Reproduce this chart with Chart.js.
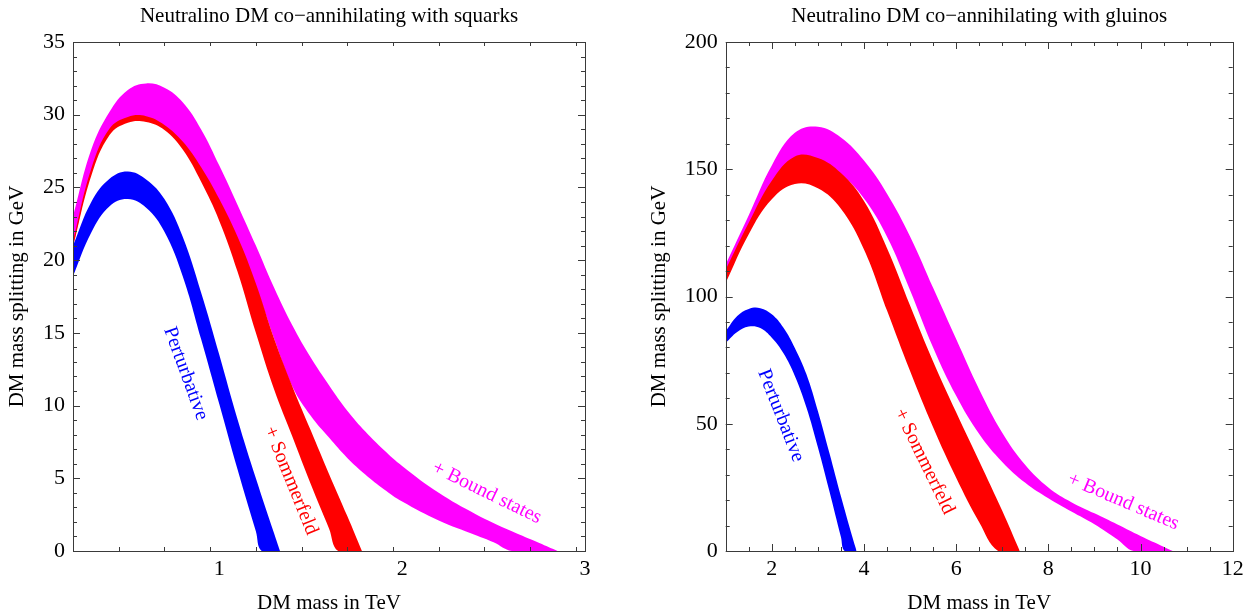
<!DOCTYPE html>
<html><head><meta charset="utf-8">
<script src="https://cdn.jsdelivr.net/npm/chart.js@4/dist/chart.umd.min.js"></script>
<style>
html,body{margin:0;padding:0;background:#fff;}
#wrap{position:relative;width:1256px;height:614px;overflow:hidden;}
.box{position:absolute;top:0;width:628px;height:614px;}
</style></head><body>
<div id="wrap">
<div class="box" style="left:0"><canvas id="c1" width="628" height="614"></canvas></div>
<div class="box" style="left:628px"><canvas id="c2" width="628" height="614"></canvas></div>
</div>
<script>
// ---------- Left panel: squarks (DM mass in TeV vs splitting in GeV) ----------
const sqBlueHiX = [0.2, 0.3, 0.4, 0.5, 0.6, 0.7, 0.8, 0.9, 1.0, 1.1, 1.2, 1.3, 1.332];
const sqBlueHiY = [21.0, 24.0, 25.6, 26.1, 25.55, 24.2, 21.6, 17.8, 13.5, 9.05, 5.0, 1.2, 0];
const sqBlueLoX = [0.2, 0.3, 0.4, 0.5, 0.6, 0.7, 0.8, 0.9, 1.0, 1.1, 1.2, 1.232, 1.332];
const sqBlueLoY = [18.9, 21.9, 23.7, 24.2, 23.6, 21.95, 18.9, 14.6, 10.1, 5.6, 1.35, 0, 0];

const sqRedHiX = [0.2, 0.3, 0.4, 0.5, 0.6, 0.7, 0.8, 0.9, 1.0, 1.1, 1.2, 1.3, 1.4, 1.5, 1.6, 1.7, 1.78];
const sqRedHiY = [21.3, 26.3, 29.05, 29.85, 29.9, 29.3, 28.15, 26.4, 24.2, 21.6, 18.4, 14.6, 11.3, 8.3, 5.3, 2.4, 0];
const sqRedLoX = [0.2, 0.3, 0.4, 0.5, 0.6, 0.7, 0.8, 0.9, 1.0, 1.1, 1.2, 1.3, 1.4, 1.5, 1.6, 1.65, 1.78];
const sqRedLoY = [20.9, 25.8, 28.6, 29.45, 29.5, 28.95, 27.6, 25.4, 22.7, 19.2, 15.0, 11.1, 7.85, 4.6, 1.55, 0, 0];

const sqMagHiX = [0.2, 0.3, 0.4, 0.5, 0.6, 0.7, 0.8, 0.9, 1.0, 1.1, 1.2, 1.3, 1.4, 1.5, 1.6, 1.7, 1.8, 1.9, 2.0, 2.2, 2.4, 2.6, 2.75, 2.85];
const sqMagHiY = [23.0, 27.6, 30.2, 31.7, 32.15, 31.85, 30.85, 29.0, 26.5, 23.8, 21.0, 18.1, 15.5, 13.3, 11.4, 9.65, 8.2, 6.95, 5.85, 4.0, 2.55, 1.35, 0.55, 0];
const sqMagLoX = [0.2, 0.3, 0.4, 0.5, 0.6, 0.7, 0.8, 0.9, 1.0, 1.1, 1.2, 1.3, 1.4, 1.5, 1.6, 1.7, 1.8, 1.9, 2.0, 2.2, 2.4, 2.5, 2.6, 2.85];
const sqMagLoY = [21.0, 26.0, 28.7, 29.6, 29.7, 29.2, 27.9, 26.1, 23.9, 21.3, 18.2, 14.6, 11.3, 9.3, 7.8, 6.4, 5.25, 4.25, 3.4, 2.1, 1.1, 0.6, 0, 0];

const sqXTicks = [1, 2, 3];
const sqYTicks = [0, 5, 10, 15, 20, 25, 30, 35];

// ---------- Right panel: gluinos ----------
const glBlueHiX = [1.0, 1.25, 1.5, 1.75, 2.0, 2.25, 2.5, 2.75, 3.0, 3.25, 3.5, 3.75, 3.84];
const glBlueHiY = [86.3, 92.3, 95.1, 95.4, 93.0, 87.8, 79.8, 69.5, 55.0, 38.5, 21.5, 5.4, 0];
const glBlueLoX = [1.0, 1.25, 1.5, 1.75, 2.0, 2.25, 2.5, 2.75, 3.0, 3.25, 3.5, 3.58, 3.84];
const glBlueLoY = [81.8, 86.1, 88.2, 87.6, 83.8, 77.8, 68.8, 56.5, 40.8, 23.5, 5.5, 0, 0];

const glRedHiX = [1.0, 1.5, 2.0, 2.5, 3.0, 3.5, 4.0, 4.5, 5.0, 5.5, 6.0, 6.5, 7.0, 7.38];
const glRedHiY = [110.6, 129.0, 145.5, 155.0, 154.4, 148.5, 137.5, 119.0, 96.5, 74.5, 54.5, 35.3, 15.8, 0];
const glRedLoX = [1.0, 1.5, 2.0, 2.5, 3.0, 3.5, 4.0, 4.5, 5.0, 5.5, 6.0, 6.5, 6.91, 7.38];
const glRedLoY = [105.4, 124.5, 138.2, 144.2, 142.5, 134.5, 118.5, 94.5, 70.7, 48.6, 28.8, 11.3, 0, 0];

const glMagHiX = [1.0, 1.5, 2.0, 2.5, 3.0, 3.5, 4.0, 4.5, 5.0, 5.5, 6.0, 6.5, 7.0, 7.5, 8.0, 8.5, 9.0, 9.5, 10.0, 10.5, 10.7];
const glMagHiY = [112.6, 131.9, 151.5, 164.3, 166.7, 162.5, 153.4, 140.4, 123.6, 103.4, 83.3, 63.5, 46.5, 33.8, 25.0, 19.2, 14.8, 10.4, 5.9, 1.7, 0];
const glMagLoX = [1.0, 1.5, 2.0, 2.5, 3.0, 3.5, 4.0, 4.5, 5.0, 5.5, 6.0, 6.5, 7.0, 7.5, 8.0, 8.5, 9.0, 9.5, 9.85, 10.7];
const glMagLoY = [110.0, 128.0, 144.5, 153.6, 153.8, 148.0, 138.5, 123.5, 102.5, 80.0, 61.0, 46.0, 35.0, 26.8, 20.7, 15.5, 10.5, 4.5, 0, 0];

const glXTicks = [2, 4, 6, 8, 10, 12];
const glYTicks = [0, 50, 100, 150, 200];

// ---------- helpers ----------
const SERIF = '"Liberation Serif", "DejaVu Serif", "Times New Roman", serif';
Chart.defaults.font.family = SERIF;
Chart.defaults.color = '#000';

function pts(xs, ys) { return xs.map((x, i) => ({ x: x, y: ys[i] })); }

function band(loX, loY, hiX, hiY, color) {
  const common = { showLine: true, pointRadius: 0, borderWidth: 0, borderColor: color,
                   tension: 0.4, backgroundColor: color };
  return [
    Object.assign({ data: pts(loX, loY), fill: false }, common),
    Object.assign({ data: pts(hiX, hiY), fill: '-1' }, common)
  ];
}

const frameTicks = {
  id: 'frameTicks',
  afterDatasetsDraw(chart, args, o) {
    const { ctx, chartArea: a } = chart;
    const sx = chart.scales.x, sy = chart.scales.y;
    ctx.save();
    ctx.strokeStyle = '#3a3a3a';
    ctx.lineWidth = 1;
    ctx.beginPath();
    const eps = 1e-9;
    for (let v = sx.min; v <= sx.max + eps; v += o.xMinor) {
      const isMajor = o.xMajor.some(t => Math.abs(t - v) < 1e-6);
      const len = isMajor ? 7 : 4;
      const px = Math.round(sx.getPixelForValue(v)) + 0.5;
      ctx.moveTo(px, a.bottom); ctx.lineTo(px, a.bottom - len);
      ctx.moveTo(px, a.top); ctx.lineTo(px, a.top + len);
    }
    for (let v = sy.min; v <= sy.max + eps; v += o.yMinor) {
      const isMajor = o.yMajor.some(t => Math.abs(t - v) < 1e-6);
      const len = isMajor ? 7 : 4;
      const py = Math.round(sy.getPixelForValue(v)) + 0.5;
      ctx.moveTo(a.left, py); ctx.lineTo(a.left + len, py);
      ctx.moveTo(a.right, py); ctx.lineTo(a.right - len, py);
    }
    ctx.stroke();
    ctx.strokeRect(Math.round(a.left) + 0.5, Math.round(a.top) + 0.5,
                   Math.round(a.width), Math.round(a.height));
    ctx.restore();
  }
};

const curveLabels = {
  id: 'curveLabels',
  afterDatasetsDraw(chart, args, o) {
    const { ctx } = chart;
    const sx = chart.scales.x, sy = chart.scales.y;
    ctx.save();
    ctx.font = '20px ' + SERIF;
    ctx.textAlign = 'center';
    ctx.textBaseline = 'middle';
    (o.items || []).forEach(it => {
      ctx.save();
      ctx.translate(sx.getPixelForValue(it.x), sy.getPixelForValue(it.y));
      ctx.rotate(it.angle * Math.PI / 180);
      ctx.fillStyle = it.color;
      ctx.fillText(it.text, 0, 0);
      ctx.restore();
    });
    ctx.restore();
  }
};

function makeChart(id, cfg) {
  return new Chart(document.getElementById(id), {
    type: 'scatter',
    data: { datasets: [].concat(
      band(cfg.blue[0], cfg.blue[1], cfg.blue[2], cfg.blue[3], '#0000ff'),
      band(cfg.red[0], cfg.red[1], cfg.red[2], cfg.red[3], '#ff0000'),
      band(cfg.mag[0], cfg.mag[1], cfg.mag[2], cfg.mag[3], '#ff00ff')
    ) },
    plugins: [frameTicks, curveLabels],
    options: {
      responsive: false,
      animation: false,
      devicePixelRatio: 1,
      events: [],
      layout: { padding: cfg.padding },
      plugins: {
        legend: { display: false },
        tooltip: { enabled: false },
        title: {
          display: true, text: cfg.title, fullSize: false,
          font: { size: 21, weight: 'normal', family: SERIF }, color: '#000',
          padding: { top: 4, bottom: 12.8 }
        },
        frameTicks: { xMinor: cfg.xMinor, yMinor: cfg.yMinor, xMajor: cfg.xTicks, yMajor: cfg.yTicks },
        curveLabels: { items: cfg.labels }
      },
      scales: {
        x: {
          type: 'linear', min: cfg.xMin, max: cfg.xMax,
          afterFit: s => { s.height = 63; },
          afterBuildTicks: s => { s.ticks = cfg.xTicks.map(v => ({ value: v })); },
          grid: { display: false, drawTicks: false },
          border: { display: false },
          ticks: { padding: 5, maxRotation: 0, autoSkip: false, font: { size: 22 }, color: '#000' },
          title: { display: true, text: 'DM mass in TeV', font: { size: 21, lineHeight: 1 }, color: '#000',
                   padding: { top: 0, bottom: 0.5 } }
        },
        y: {
          type: 'linear', min: cfg.yMin, max: cfg.yMax,
          afterFit: s => { s.width = cfg.yWidth; },
          afterBuildTicks: s => { s.ticks = cfg.yTicks.map(v => ({ value: v })); },
          grid: { display: false, drawTicks: false },
          border: { display: false },
          ticks: { padding: 8, font: { size: 22 }, color: '#000' },
          title: { display: true, text: 'DM mass splitting in GeV', font: { size: 21 }, color: '#000',
                   padding: { top: 5, bottom: 0 } }
        }
      }
    }
  });
}

makeChart('c1', {
  title: 'Neutralino DM co\u2212annihilating with squarks',
  blue: [sqBlueLoX, sqBlueLoY, sqBlueHiX, sqBlueHiY],
  red: [sqRedLoX, sqRedLoY, sqRedHiX, sqRedHiY],
  mag: [sqMagLoX, sqMagLoY, sqMagHiX, sqMagHiY],
  xMin: 0.2, xMax: 3, yMin: 0, yMax: 35,
  xTicks: sqXTicks, yTicks: sqYTicks, xMinor: 0.25, yMinor: 1,
  yWidth: 73,
  padding: { left: 0, right: 43, top: 0, bottom: 0 },
  labels: [
    { text: 'Perturbative', x: 0.816, y: 12.2, angle: 70, color: '#0000ff' },
    { text: '+ Sommerfeld', x: 1.391, y: 4.83, angle: 68, color: '#ff0000' },
    { text: '+ Bound states', x: 2.463, y: 4.0, angle: 26, color: '#ff00ff' }
  ]
});

makeChart('c2', {
  title: 'Neutralino DM co\u2212annihilating with gluinos',
  blue: [glBlueLoX, glBlueLoY, glBlueHiX, glBlueHiY],
  red: [glRedLoX, glRedLoY, glRedHiX, glRedHiY],
  mag: [glMagLoX, glMagLoY, glMagHiX, glMagHiY],
  xMin: 1, xMax: 12, yMin: 0, yMax: 200,
  xTicks: glXTicks, yTicks: glYTicks, xMinor: 0.5, yMinor: 10,
  yWidth: 83.7,
  padding: { left: 14, right: 23.3, top: 0, bottom: 0 },
  labels: [
    { text: 'Perturbative', x: 2.195, y: 53.2, angle: 68.5, color: '#0000ff' },
    { text: '+ Sommerfeld', x: 5.306, y: 35.2, angle: 64, color: '#ff0000' },
    { text: '+ Bound states', x: 9.625, y: 19.4, angle: 23, color: '#ff00ff' }
  ]
});
</script>
</body></html>
